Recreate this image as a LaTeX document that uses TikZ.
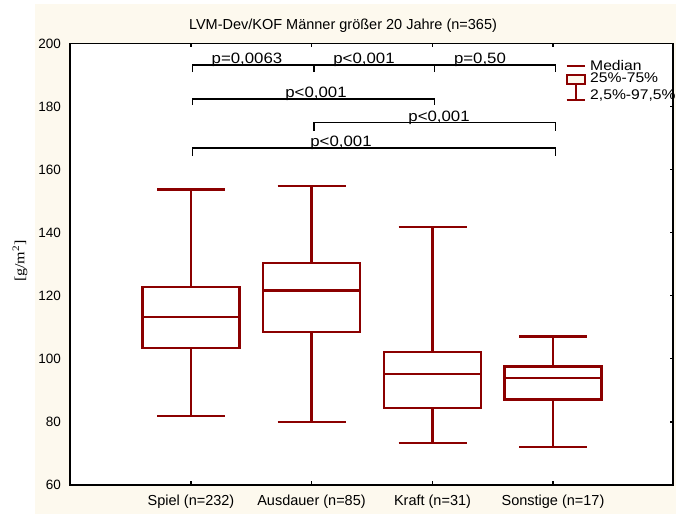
\documentclass[tikz,border=0pt]{standalone}
\usepackage{fontspec}
\setmainfont{Liberation Sans}
\newfontfamily\widesans[FakeStretch=1.12]{Liberation Sans}
\newfontfamily\serifunit[FakeStretch=1.15]{Liberation Serif}
\usetikzlibrary{positioning,calc}

\definecolor{boxred}{RGB}{139,0,0}
\definecolor{cream}{RGB}{253,249,238}

% value -> pixel row
\newcommand{\py}[1]{{485-((#1)-60)*3.1536}}
% center, lower whisker, q1, median, q3, upper whisker
\newcommand{\boxplt}[6]{
  \draw[boxline] (#1-34,\py{#2}) -- (#1+34,\py{#2});
  \draw[boxline] (#1,\py{#2}) -- (#1,\py{#3});
  \draw[boxline, fill=white] (#1-48.5,\py{#3}) rectangle (#1+48.5,\py{#5});
  \draw[boxline] (#1-48.5,\py{#4}) -- (#1+48.5,\py{#4});
  \draw[boxline] (#1,\py{#5}) -- (#1,\py{#6});
  \draw[boxline] (#1-34,\py{#6}) -- (#1+34,\py{#6});
}

\begin{document}
\begin{tikzpicture}[x=1pt, y=-1pt,
  boxline/.style={draw=boxred, line width=2.2pt},
  brack/.style={draw=black, line width=1.8pt},
  plab/.style={font=\widesans\fontsize{15}{15}\selectfont, anchor=base, inner sep=0pt},
  ticklab/.style={font=\fontsize{13.5}{13.5}\selectfont, anchor=east, inner sep=0pt},
  catlab/.style={font=\fontsize{14.5}{14.5}\selectfont, anchor=base, inner sep=0pt},
  leglab/.style={font=\widesans\fontsize{14}{14}\selectfont, anchor=base west, inner sep=0pt}]
  \useasboundingbox (0,0) rectangle (676,514);
  \fill[white] (0,0) rectangle (676,514);
  \fill[cream] (35,4) rectangle (676,514);
  \fill[white] (70,43.5) rectangle (673,485);

  % title and axis label
  \node (title) [font=\fontsize{14.5}{14.5}\selectfont, anchor=base, inner sep=0pt] at (343,29.3) {LVM-Dev/KOF Männer größer 20 Jahre (n=365)};
  \node (ylab) [font=\serifunit\fontsize{14}{14}\selectfont, rotate=90] at (20,261) {[g/m\textsuperscript{2}]};

  % groups
  \coordinate (spiel) at (191,485);
  \coordinate (ausd) at (311.5,485);
  \coordinate (kraft) at (432.5,485);
  \coordinate (sonst) at (553,485);

  % boxes
  \boxplt{191}{82.0}{103.4}{113.4}{122.9}{153.7}
  \boxplt{311.5}{80.1}{108.4}{121.7}{130.4}{154.9}
  \boxplt{432.5}{73.2}{84.5}{95.2}{102.1}{141.7}
  \boxplt{553}{72.0}{87.1}{93.9}{97.6}{107.1}

  % frame and ticks
  \draw[line width=1.5pt] (70,43.5) rectangle (673,485);
  \draw[line width=2.4pt] (70,43.5) -- (70,485) -- (673,485);
  \foreach \v in {60,80,...,200}
    \node[ticklab] at (61,\py{\v}) {\v};
  \foreach \v in {80,100,...,180}
    \draw[line width=1.2pt] (673,\py{\v}) -- ++(-3,0);
  \foreach \g in {spiel,ausd,kraft,sonst} {
    \draw[line width=1.2pt] (\g) -- ++(0,-4);
    \draw[line width=1.2pt] (\g |- 0,43.5) -- ++(0,3);
  }
  \node (lspiel) [catlab] at ($(spiel)+(0,20)$) {Spiel (n=232)};
  \node (lausd) [catlab] at ($(ausd)+(0,20)$) {Ausdauer (n=85)};
  \node (lkraft) [catlab] at ($(kraft)+(0,20)$) {Kraft (n=31)};
  \node (lsonst) [catlab] at ($(sonst)+(0,20)$) {Sonstige (n=17)};

  % brackets
  \coordinate (b1) at (192.5,0);
  \coordinate (b2) at (314,0);
  \coordinate (b3) at (434.5,0);
  \coordinate (b4) at (555.5,0);
  \coordinate (r1) at (0,65);
  \coordinate (r2) at (0,99);
  \coordinate (r3) at (0,122.5);
  \coordinate (r4) at (0,148);
  \draw[brack] ([yshift=-7pt]b1 |- r1) -- (b1 |- r1) -- (b2 |- r1) -- ([yshift=-7pt]b2 |- r1);
  \draw[brack] ([yshift=-7pt]b2 |- r1) -- (b2 |- r1) -- (b3 |- r1) -- ([yshift=-7pt]b3 |- r1);
  \draw[brack] ([yshift=-7pt]b3 |- r1) -- (b3 |- r1) -- (b4 |- r1) -- ([yshift=-7pt]b4 |- r1);
  \draw[brack] ([yshift=-6pt]b1 |- r2) -- (b1 |- r2) -- (b3 |- r2) -- ([yshift=-6pt]b3 |- r2);
  \draw[brack] ([yshift=-8pt]b2 |- r3) -- (b2 |- r3) -- (b4 |- r3) -- ([yshift=-8pt]b4 |- r3);
  \draw[brack] ([yshift=-8pt]b1 |- r4) -- (b1 |- r4) -- (b4 |- r4) -- ([yshift=-8pt]b4 |- r4);
  \node (p12) [plab] at (247,63.5) {p=0,0063};
  \node (p23) [plab] at (364,63.5) {p<0,001};
  \node (p34) [plab] at (480,63.5) {p=0,50};
  \node (p13) [plab] at (316,97.5) {p<0,001};
  \node (p24) [plab] at (439,121) {p<0,001};
  \node (p14) [plab] at (341,146.5) {p<0,001};

  % legend
  \draw[boxline, line width=2pt] (566.7,66) -- (585,66);
  \draw[boxline, line width=2pt, fill=cream] (566.7,75) rectangle (585,83.5);
  \draw[boxline, line width=2pt] (575.8,83.5) -- (575.8,100);
  \draw[boxline, line width=2pt] (566.7,100) -- (585,100);
  \node (lmed) [leglab] at (590,70) {Median};
  \node (lbox) [leglab] at (590,82.7) {25\%-75\%};
  \node (lwhis) [leglab] at (590,99.3) {2,5\%-97,5\%};
\end{tikzpicture}
\end{document}
